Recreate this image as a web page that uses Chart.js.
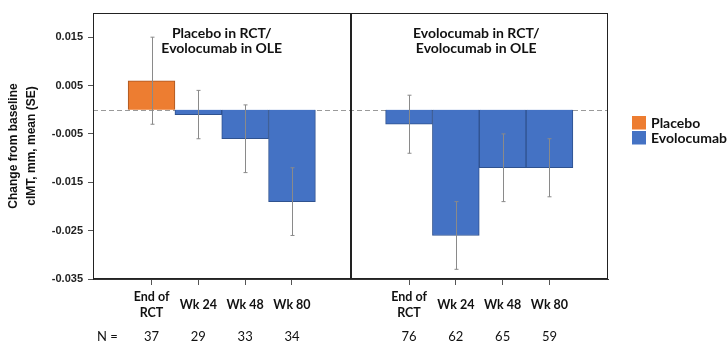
<!DOCTYPE html>
<html>
<head>
<meta charset="utf-8">
<script src="https://cdn.jsdelivr.net/npm/chart.js@4.4.1/dist/chart.umd.min.js"></script>
<style>
  html, body { margin: 0; padding: 0; background: #fff; }
  #wrap { width: 728px; height: 343px; }
</style>
</head>
<body>
<div id="wrap"><canvas id="cimtChart" width="728" height="343"></canvas></div>
<script>
// timepoints shared by both panels
const timepoints = [['End of', 'RCT'], ['Wk 24'], ['Wk 48'], ['Wk 80']];
const panelTitles = [
  ['Placebo in RCT/', 'Evolocumab in OLE'],
  ['Evolocumab in RCT/', 'Evolocumab in OLE']
];

// left panel: placebo in RCT -> evolocumab in OLE
const leftArm = ['Placebo', 'Evolocumab', 'Evolocumab', 'Evolocumab'];
const leftMean = [0.006, -0.001, -0.006, -0.019];
const leftSE = [0.009, 0.005, 0.007, 0.007];
const leftN = [37, 29, 33, 34];

// right panel: evolocumab in RCT -> evolocumab in OLE
const rightArm = ['Evolocumab', 'Evolocumab', 'Evolocumab', 'Evolocumab'];
const rightMean = [-0.003, -0.026, -0.012, -0.012];
const rightSE = [0.006, 0.007, 0.007, 0.006];
const rightN = [76, 62, 65, 59];

const yTicks = [0.015, 0.005, -0.005, -0.015, -0.025, -0.035];
const arms = ['Placebo', 'Evolocumab'];
const armColors = {Placebo: '#ED7D31', Evolocumab: '#4472C4'};
const armBorders = {Placebo: '#A85520', Evolocumab: '#2F528F'};

// each panel is 5.5 bar-widths wide, bars start 1.25 in
const PANEL_SPAN = 5.5;
const FIRST_SLOT = 1.25;
const panels = [
  {arm: leftArm, mean: leftMean, se: leftSE, n: leftN},
  {arm: rightArm, mean: rightMean, se: rightSE, n: rightN}
];

let points = [];
panels.forEach((p, pi) => {
  p.mean.forEach((m, i) => {
    points.push({
      x: pi * PANEL_SPAN + FIRST_SLOT + i,
      y: m, se: p.se[i], n: p.n[i], arm: p.arm[i], label: timepoints[i]
    });
  });
});

const datasets = arms.map(arm => ({
  label: arm,
  data: points.filter(pt => pt.arm === arm),
  backgroundColor: armColors[arm],
  borderColor: armBorders[arm],
  borderWidth: 1,
  grouped: false,
  barPercentage: 1,
  categoryPercentage: 1
}));

const latoBold = (size) => 'bold ' + size + 'px Lato, "Open Sans", sans-serif';

const panelPlugin = {
  id: 'panelPlugin',
  beforeDatasetsDraw(chart) {
    const {ctx, chartArea, scales} = chart;
    const y0 = Math.round(scales.y.getPixelForValue(0)) + 0.5;
    ctx.save();
    ctx.strokeStyle = '#9a9a9a';
    ctx.lineWidth = 1;
    ctx.setLineDash([5, 3]);
    ctx.beginPath();
    ctx.moveTo(chartArea.left, y0);
    ctx.lineTo(chartArea.right, y0);
    ctx.stroke();
    ctx.restore();
  },
  afterDatasetsDraw(chart) {
    const {ctx, chartArea, scales} = chart;
    ctx.save();
    // error bars
    ctx.strokeStyle = '#8a8a8a';
    ctx.lineWidth = 1;
    points.forEach(pt => {
      const x = Math.round(scales.x.getPixelForValue(pt.x)) + 0.5;
      const yt = scales.y.getPixelForValue(pt.y + pt.se);
      const yb = scales.y.getPixelForValue(pt.y - pt.se);
      ctx.beginPath();
      ctx.moveTo(x, yt); ctx.lineTo(x, yb);
      ctx.moveTo(x - 2, yt); ctx.lineTo(x + 2, yt);
      ctx.moveTo(x - 2, yb); ctx.lineTo(x + 2, yb);
      ctx.stroke();
    });
    // panel frames
    ctx.strokeStyle = '#222';
    for (let p = 0; p < panels.length; p++) {
      const l = Math.round(scales.x.getPixelForValue(p * PANEL_SPAN)) + 0.5;
      const r = Math.round(scales.x.getPixelForValue((p + 1) * PANEL_SPAN)) - 0.5;
      ctx.strokeRect(l, Math.round(chartArea.top) + 0.5, r - l, Math.round(chartArea.bottom - chartArea.top) - 1);
    }
    ctx.restore();
  },
  afterDraw(chart) {
    const {ctx, chartArea, scales} = chart;
    ctx.save();
    ctx.fillStyle = '#111';
    ctx.textAlign = 'center';
    ctx.textBaseline = 'middle';
    // panel titles
    ctx.font = latoBold(14);
    panelTitles.forEach((lines, p) => {
      const cx = (scales.x.getPixelForValue(p * PANEL_SPAN) + scales.x.getPixelForValue((p + 1) * PANEL_SPAN)) / 2;
      lines.forEach((t, k) => ctx.fillText(t, cx - 3 * p, chartArea.top + 20 + k * 15.5));
    });
    // timepoint labels and N row
    points.forEach(pt => {
      const x = scales.x.getPixelForValue(pt.x);
      ctx.font = latoBold(12.5);
      const mid = chartArea.bottom + 26;
      pt.label.forEach((t, k) => {
        ctx.fillText(t, x, mid + (k - (pt.label.length - 1) / 2) * 16);
      });
      ctx.font = '13px Lato, "Open Sans", sans-serif';
      ctx.fillText(String(pt.n), x, chartArea.bottom + 58);
    });
    ctx.font = '13px Lato, "Open Sans", sans-serif';
    ctx.textAlign = 'left';
    ctx.fillText('N =', chartArea.left + 4, chartArea.bottom + 58);
    // legend
    ctx.font = latoBold(14);
    chart.data.datasets.forEach((ds, i) => {
      const bx = chartArea.right + 24;
      const by = 116 + i * 15;
      ctx.fillStyle = ds.backgroundColor;
      ctx.fillRect(bx, by, 14, 13.5);
      ctx.fillStyle = '#111';
      ctx.fillText(ds.label, bx + 19, by + 7);
    });
    ctx.restore();
  }
};

new Chart(document.getElementById('cimtChart'), {
  type: 'bar',
  data: {datasets: datasets},
  options: {
    responsive: false,
    animation: false,
    layout: {padding: {top: 13, right: 120, left: 0, bottom: 0}},
    plugins: {legend: {display: false}, tooltip: {enabled: false}},
    scales: {
      x: {
        type: 'linear',
        offset: false,
        min: 0,
        max: 2 * PANEL_SPAN,
        afterBuildTicks: s => { s.ticks = points.map(pt => ({value: pt.x})); },
        afterFit: s => { s.height = 64; },
        ticks: {callback: () => '', autoSkip: false},
        grid: {offset: false, drawOnChartArea: false, drawTicks: true, tickLength: 6, color: '#555'},
        border: {color: '#333'}
      },
      y: {
        min: -0.035,
        max: 0.02,
        afterBuildTicks: s => { s.ticks = yTicks.map(v => ({value: v})); },
        afterFit: s => { s.width = 93; },
        ticks: {
          callback: v => v.toFixed(3),
          font: {family: '"Liberation Sans", Arial, sans-serif', size: 11, weight: 'bold'},
          color: '#222',
          padding: 5
        },
        grid: {drawOnChartArea: false, drawTicks: true, tickLength: 5, color: '#555'},
        border: {color: '#222'},
        title: {
          display: true,
          text: ['Change from baseline', 'cIMT, mm, mean (SE)'],
          font: {family: '"Liberation Sans", Arial, sans-serif', size: 12, weight: 'bold', lineHeight: 1.5},
          color: '#111',
          padding: {top: 5, bottom: 0}
        }
      }
    }
  },
  plugins: [panelPlugin]
});
</script>
</body>
</html>
